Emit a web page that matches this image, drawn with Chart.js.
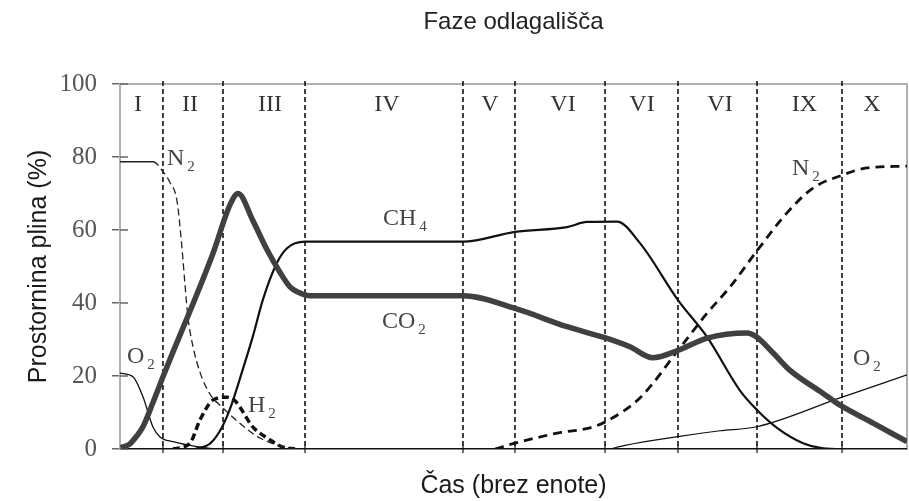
<!DOCTYPE html>
<html><head><meta charset="utf-8">
<script src="https://cdn.jsdelivr.net/npm/chart.js@4.4.1/dist/chart.umd.min.js"></script>
<style>html,body{margin:0;padding:0;background:#fff;}#wrap{width:909px;height:501px;}</style>
</head><body><div id="wrap"><canvas id="c" width="909" height="501"></canvas></div>
<script>
// ---- text ----
const chartTitle = 'Faze odlagališča';
const xTitle = 'Čas (brez enote)';
const yTitle = 'Prostornina plina (%)';
const yTicks = [0, 20, 40, 60, 80, 100];

// ---- phases ----
const phaseNames = ['I', 'II', 'III', 'IV', 'V', 'VI', 'VI', 'VI', 'IX', 'X'];
const phaseCenters = [2.29, 8.89, 19.06, 33.93, 47.01, 56.29, 66.33, 76.24, 86.98, 95.55];
const phaseBounds = [5.46, 13.09, 23.51, 43.58, 50.19, 61.63, 70.90, 80.94, 91.74];
const phaseLabelY = 94.2;

// ---- series (time units 0..100, volume %) ----
const co2X = [0.1, 1.3, 2.1, 2.9, 4.2, 5.5, 11.8, 14.0, 15.0, 16.9, 18.7, 20.3, 21.6, 22.6, 24.1, 43.6, 50.2, 56.8, 61.6, 64.8, 67.7, 70.9, 74.6, 79.7, 80.9, 83.0, 85.1, 89.3, 91.5, 95.7, 100];
const co2Y = [0.3, 1.5, 3.5, 6, 12.8, 20, 53.5, 67, 70, 62.5, 54.5, 48.5, 44.4, 43, 42, 42, 38.5, 33.5, 30.5, 28, 25, 27, 30.4, 31.8, 30.7, 26.3, 21.6, 15.3, 12, 7.1, 2];

const ch4X = [9.53, 11.44, 12.71, 13.98, 15.63, 16.90, 18.17, 19.95, 21.22, 23.51, 43.58, 50.19, 56.80, 59.34, 63.15, 66.07, 70.90, 74.59, 78.78, 80.94, 83.48, 86.79, 89.33, 91.74, 100];
const ch4Y = [0, 1.5, 5, 11, 22, 31, 41, 51, 55, 56.8, 56.8, 59.5, 60.8, 62.2, 62.3, 56.4, 40.8, 30.7, 16, 10.7, 5.8, 1.6, 0.2, 0, 0];

const n2aX = [0, 4.19, 5.46, 6.35, 7.24, 7.88, 8.26, 8.64, 9.28, 10.17, 11.44, 12.96, 15.25, 17.79, 20.97, 22.87];
const n2aY = [78.7, 78.7, 76, 73, 68, 55, 45, 36, 28, 21, 15, 11.5, 7, 3, 0.5, 0];

const o2aX = [0, 1.65, 2.92, 4.19, 5.08, 6.73, 10.17, 12.07];
const o2aY = [20.8, 19.8, 14.3, 6, 3.3, 2, 0.5, 0];

const h2X = [6.73, 8.89, 10.17, 11.82, 13.60, 14.61, 16.90, 19.06, 20.71, 22.24];
const h2Y = [0, 1.6, 8, 13.4, 14.2, 13.2, 6, 2.5, 0.5, 0];

const n2bX = [47.65, 50.19, 55.91, 59.72, 61.63, 66.07, 70.90, 74.59, 77.51, 80.94, 84.75, 88.06, 91.74, 94.92, 100];
const n2bY = [0, 1.6, 4.5, 5.8, 7.4, 14, 27, 37.2, 44.4, 54.3, 64.7, 71.5, 75, 77, 77.5];

const o2bX = [62.26, 64.17, 70.90, 76.24, 80.94, 91.49, 100];
const o2bY = [0, 1, 3.4, 5, 6.1, 14, 20.3];

// ---- curve labels: main text, subscript, anchor (time, %) ----
const labelMain = ['N', 'O', 'H', 'CH', 'CO', 'N', 'O'];
const labelSub = ['2', '2', '2', '4', '2', '2', '2'];
const labelX = [5.97, 0.89, 16.26, 33.42, 33.29, 85.39, 93.14];
const labelY = [77.8, 23.6, 10.1, 61.4, 33.2, 75.1, 23.0];

const pts = (xs, ys) => xs.map((x, i) => ({ x: x, y: ys[i] }));

const serif = '"Liberation Serif", "Times New Roman", serif';
const sans = '"Liberation Sans", Arial, sans-serif';

const decor = {
  id: 'decor',
  beforeDatasetsDraw(chart) {
    const { ctx, chartArea: a, scales: { x, y } } = chart;
    ctx.save();
    ctx.strokeStyle = '#b0b0b0'; ctx.lineWidth = 2;
    ctx.beginPath(); ctx.moveTo(a.left, a.top); ctx.lineTo(a.right, a.top); ctx.lineTo(a.right, a.bottom); ctx.stroke();
    ctx.strokeStyle = '#666'; ctx.lineWidth = 1.5;
    yTicks.forEach(v => { const py = y.getPixelForValue(v); ctx.beginPath(); ctx.moveTo(a.left, py); ctx.lineTo(a.left + 8, py); ctx.stroke(); });
    ctx.strokeStyle = '#111'; ctx.lineWidth = 1.6; ctx.setLineDash([5, 3]);
    phaseBounds.forEach(b => { const px = x.getPixelForValue(b); ctx.beginPath(); ctx.moveTo(px, a.top - 3); ctx.lineTo(px, a.bottom); ctx.stroke(); });
    ctx.setLineDash([]); ctx.lineWidth = 1.2;
    phaseBounds.forEach(b => { const px = x.getPixelForValue(b); ctx.beginPath(); ctx.moveTo(px, a.bottom - 4); ctx.lineTo(px, a.bottom + 4); ctx.stroke(); });
    ctx.fillStyle = '#333'; ctx.font = '24px ' + serif; ctx.textAlign = 'center'; ctx.textBaseline = 'middle';
    phaseNames.forEach((n, i) => ctx.fillText(n, x.getPixelForValue(phaseCenters[i]), y.getPixelForValue(phaseLabelY)));
    ctx.restore();
  },
  afterDatasetsDraw(chart) {
    const { ctx, scales: { x, y } } = chart;
    ctx.save();
    ctx.fillStyle = '#444'; ctx.textAlign = 'left'; ctx.textBaseline = 'alphabetic';
    labelMain.forEach((m, i) => {
      const px = x.getPixelForValue(labelX[i]), py = y.getPixelForValue(labelY[i]);
      ctx.font = '24px ' + serif;
      ctx.fillText(m, px, py);
      const w = ctx.measureText(m).width;
      ctx.font = '15px ' + serif;
      ctx.fillText(labelSub[i], px + w + 3, py + 6);
    });
    ctx.restore();
  }
};

const base = { pointRadius: 0, fill: false, cubicInterpolationMode: 'monotone' };

new Chart(document.getElementById('c'), {
  type: 'line',
  data: {
    datasets: [
      Object.assign({ label: 'CO2', data: pts(co2X, co2Y), borderColor: '#404040', borderWidth: 5.5 }, base),
      Object.assign({ label: 'CH4', data: pts(ch4X, ch4Y), borderColor: '#111', borderWidth: 2.2 }, base),
      Object.assign({ label: 'N2', data: pts(n2aX, n2aY), borderColor: '#222', borderWidth: 1.3,
        segment: { borderDash: c => c.p0DataIndex === 0 ? [] : [7, 4] } }, base),
      Object.assign({ label: 'O2', data: pts(o2aX, o2aY), borderColor: '#111', borderWidth: 1.3 }, base),
      Object.assign({ label: 'H2', data: pts(h2X, h2Y), borderColor: '#111', borderWidth: 3.5, borderDash: [7, 4] }, base),
      Object.assign({ label: 'N2 late', data: pts(n2bX, n2bY), borderColor: '#111', borderWidth: 2.8, borderDash: [9, 6] }, base),
      Object.assign({ label: 'O2 late', data: pts(o2bX, o2bY), borderColor: '#111', borderWidth: 1.2 }, base)
    ]
  },
  options: {
    responsive: false, animation: false, devicePixelRatio: 1,
    layout: { padding: { top: 0, right: 2, bottom: 0, left: 0 } },
    plugins: {
      legend: { display: false }, tooltip: { enabled: false },
      title: { display: true, fullSize: false, text: chartTitle, color: '#222', font: { family: sans, size: 24, weight: 'normal' }, padding: { top: 8, bottom: 47.2 } }
    },
    scales: {
      x: {
        type: 'linear', min: 0, max: 100,
        ticks: { display: false },
        grid: { display: false, drawOnChartArea: false, drawTicks: false },
        border: { display: true, color: '#111', width: 1.5 },
        title: { display: true, text: xTitle, color: '#1a1a1a', font: { family: sans, size: 25 }, padding: { top: 0, bottom: 0 } },
        afterFit: s => { s.height = 52; }
      },
      y: {
        type: 'linear', min: 0, max: 100,
        afterBuildTicks: s => { s.ticks = yTicks.map(v => ({ value: v })); },
        ticks: { color: '#555', font: { family: serif, size: 25 }, padding: 15 },
        grid: { drawOnChartArea: false, drawTicks: true, tickLength: 8, color: '#666', lineWidth: 1.5 },
        border: { color: '#b0b0b0', width: 2 },
        title: { display: true, text: yTitle, color: '#1a1a1a', font: { family: sans, size: 25 }, padding: { top: 24, bottom: 0 } },
        afterFit: s => { s.width = 120; }
      }
    }
  },
  plugins: [decor]
});
</script></body></html>
